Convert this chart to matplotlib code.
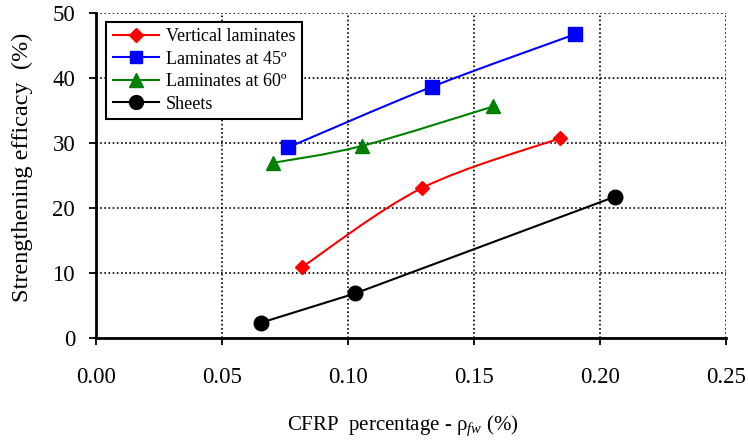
import numpy as np
import matplotlib
matplotlib.use("Agg")
import matplotlib.pyplot as plt
from matplotlib.path import Path
from matplotlib.patches import PathPatch
from matplotlib.lines import Line2D

plt.rcParams['font.family'] = ['Liberation Serif', 'DejaVu Serif']
plt.rcParams['mathtext.fontset'] = 'custom'
plt.rcParams['mathtext.rm'] = 'Liberation Serif'
plt.rcParams['mathtext.it'] = 'Liberation Serif:italic'

# data
vert_x = [0.0819, 0.1292, 0.1841]
vert_y = [11.0, 23.1, 30.8]
lam45_x = [0.0763, 0.1332, 0.1901]
lam45_y = [29.4, 38.7, 46.8]
lam60_x = [0.0701, 0.1054, 0.1577]
lam60_y = [27.0, 29.6, 35.7]
sheet_x = [0.0655, 0.1028, 0.2060]
sheet_y = [2.4, 6.9, 21.8]

labels = ['Vertical laminates', 'Laminates at 45º', 'Laminates at 60º', 'Sheets']
colors = ['#ff0000', '#0000ff', '#008000', '#000000']
markers = ['D', 's', '^', 'o']
msizes = [7, 9.5, 10, 10.5]
smooth = [True, True, True, False]


def smooth_path(xs, ys):
    # excel style smoothed line: catmull-rom converted to cubic bezier
    p = np.column_stack([xs, ys])
    verts = [p[0]]
    codes = [Path.MOVETO]
    n = len(p)
    for i in range(n - 1):
        p0 = p[i - 1] if i > 0 else p[i]
        p3 = p[i + 2] if i + 2 < n else p[i + 1]
        c1 = p[i] + (p[i + 1] - p0) / 6.0
        c2 = p[i + 1] - (p3 - p[i]) / 6.0
        verts += [c1, c2, p[i + 1]]
        codes += [Path.CURVE4] * 3
    return Path(verts, codes)


fig = plt.figure(figsize=(7.48, 4.41), dpi=100)
ax = fig.add_axes([0.1283, 0.2329, 0.8423, 0.7365])

series = [(vert_x, vert_y), (lam45_x, lam45_y), (lam60_x, lam60_y), (sheet_x, sheet_y)]
handles = []
for (xs, ys), lab, c, m, ms, sm in zip(series, labels, colors, markers, msizes, smooth):
    if sm:
        ax.add_patch(PathPatch(smooth_path(xs, ys), fill=False, edgecolor=c, lw=1.5, zorder=3))
    else:
        ax.plot(xs, ys, color=c, lw=1.5, zorder=3)
    ax.plot(xs, ys, ls='none', marker=m, color=c, ms=ms, zorder=4)
    handles.append(Line2D([], [], color=c, lw=1.5, marker=m, ms=ms * 0.95))

ax.set_xlim(0, 0.25)
ax.set_ylim(0, 50)
ax.set_xticks(np.arange(0, 0.26, 0.05))
ax.set_yticks(np.arange(0, 51, 10))
ax.set_xticklabels(['%.2f' % v for v in np.arange(0, 0.26, 0.05)])
ax.grid(True, color='black', ls=(0, (1, 1.5)), lw=1.2)
ax.set_axisbelow(True)
for s in ['top', 'right']:
    ax.spines[s].set_visible(False)
for s in ['left', 'bottom']:
    ax.spines[s].set_linewidth(2)
ax.tick_params(direction='out', length=5, width=1.3, labelsize=16.5)
ax.tick_params(axis='x', pad=16)
ax.tick_params(axis='y', pad=10)

ax.set_xlabel(r'CFRP  percentage - ρ$_{fw}$ (%)', fontsize=15)
ax.xaxis.set_label_coords(0.487, -0.233)
ax.set_ylabel('Strengthening efficacy  (%)', fontsize=17.5)
ax.yaxis.set_label_coords(-0.1, 0.526)

leg = ax.legend(handles, labels, loc='upper left', bbox_to_anchor=(0.0105, 0.985),
                fontsize=13, frameon=True, fancybox=False, handlelength=2.6,
                borderaxespad=0.2, labelspacing=0.3, handletextpad=0.35,
                borderpad=0.35)
leg.get_frame().set_edgecolor('black')
leg.get_frame().set_linewidth(1.5)
leg.get_frame().set_alpha(1)

fig.savefig('out.png', dpi=100)
